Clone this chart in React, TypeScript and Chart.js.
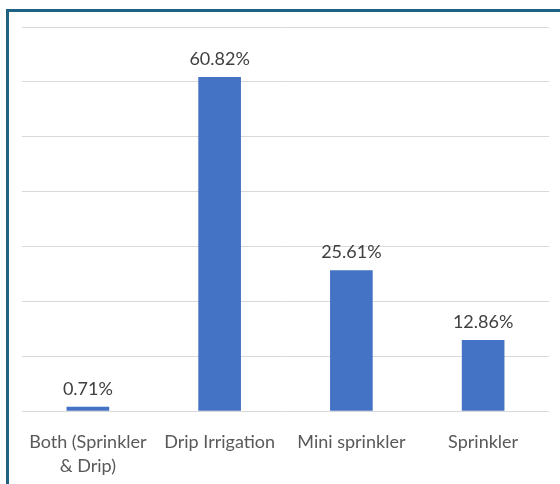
import React, { useEffect, useRef } from "react";
import { Chart, registerables } from "chart.js";

Chart.register(...registerables);

const categories: (string | string[])[] = [
  ["Both (Sprinkler", "& Drip)"],
  "Drip Irrigation",
  "Mini sprinkler",
  "Sprinkler",
];
const shares = [0.71, 60.82, 25.61, 12.86];
const valueLabels = ["0.71%", "60.82%", "25.61%", "12.86%"];

const FONT = "Lato, 'Open Sans', sans-serif";

// Writes each bar's percentage centred above its top edge
const barValueLabels = {
  id: "barValueLabels",
  afterDatasetsDraw(chart: Chart) {
    const { ctx } = chart;
    const meta = chart.getDatasetMeta(0);
    ctx.save();
    ctx.font = `18px ${FONT}`;
    ctx.fillStyle = "#404040";
    ctx.textAlign = "center";
    ctx.textBaseline = "middle";
    meta.data.forEach((bar: any, i: number) => {
      ctx.fillText(valueLabels[i], bar.x, bar.y - 18);
    });
    ctx.restore();
  },
};

export default function App() {
  const canvasRef = useRef<HTMLCanvasElement>(null);

  useEffect(() => {
    document.body.style.margin = "0";
    const canvas = canvasRef.current;
    if (!canvas) return;
    const chart = new Chart(canvas, {
      type: "bar",
      data: {
        labels: categories,
        datasets: [
          {
            data: shares,
            backgroundColor: "#4472c4",
            barThickness: 42,
          },
        ],
      },
      options: {
        animation: false,
        responsive: false,
        maintainAspectRatio: false,
        layout: { padding: { left: 22, right: 11, top: 27, bottom: 0 } },
        plugins: {
          legend: { display: false },
          tooltip: { enabled: false },
        },
        scales: {
          x: {
            grid: { display: false },
            border: { display: false },
            ticks: {
              color: "#595959",
              font: { family: FONT, size: 18, lineHeight: 1.333 },
              padding: 11,
              maxRotation: 0,
              autoSkip: false,
            },
            afterFit(scale: any) {
              scale.height = 73;
            },
          },
          y: {
            min: 0,
            max: 70,
            ticks: { display: false, stepSize: 10 },
            grid: { color: "#d9d9d9", lineWidth: 1, drawTicks: false },
            border: { display: false },
            afterFit(scale: any) {
              scale.width = 0;
            },
          },
        },
      },
      plugins: [barValueLabels],
    });
    return () => chart.destroy();
  }, []);

  return (
    <div style={{ position: "relative", width: 560, height: 484, overflow: "hidden", background: "#fff" }}>
      <canvas ref={canvasRef} width={560} height={484} style={{ position: "absolute", left: 0, top: 0 }} />
      <div
        style={{
          position: "absolute",
          left: 6,
          top: 9,
          width: 600,
          height: 600,
          borderLeft: "3px solid #1f6284",
          borderTop: "3px solid #1f6284",
          pointerEvents: "none",
        }}
      />
    </div>
  );
}
